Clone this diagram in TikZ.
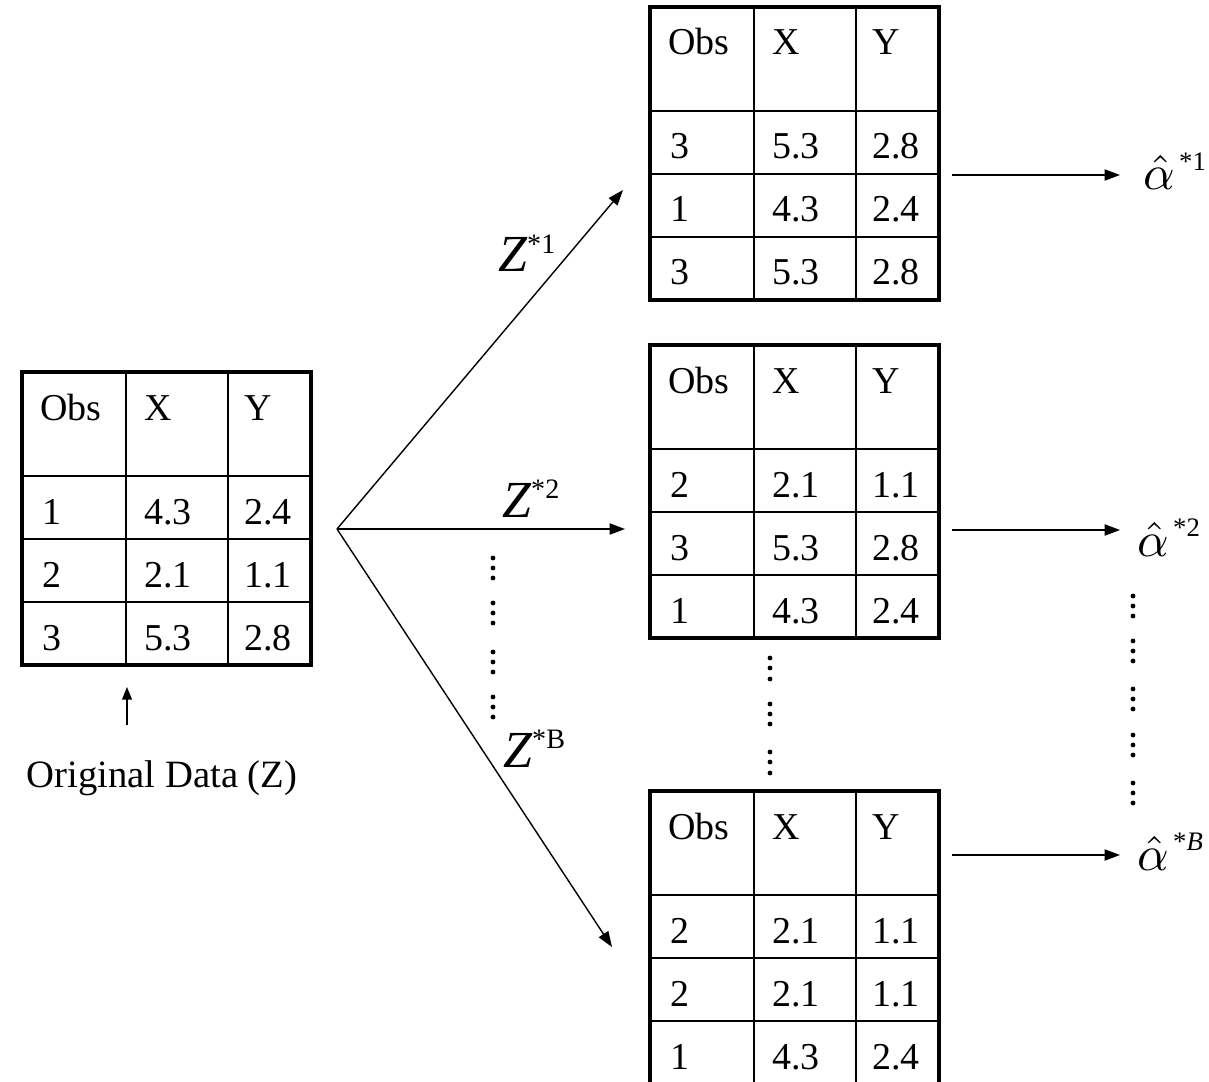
\documentclass[tikz,border=0pt]{standalone}
\usepackage{fix-cm}
\usepackage{amsmath}
\usepackage{amssymb}
\usepackage{fontspec}
\setmainfont{Liberation Serif}
\usetikzlibrary{arrows.meta}

\tikzset{
  tableframe/.style={draw=black, line width=2.8pt, minimum width=7.225cm, minimum height=7.325cm, inner sep=0pt},
  tablegrid/.style={draw=black, line width=1.1pt},
  cell/.style={anchor=base west, inner sep=0pt, font=\fontsize{27}{30}\selectfont},
  link/.style={draw=black, line width=1pt, -{Triangle[length=11pt,width=8pt]}},
  label/.style={anchor=base west, inner sep=0pt},
}

% one data table: name, top left corner, rows obs/x/y
\newcommand{\datatable}[3]{%
  \begin{scope}[shift={(#2)}]
    \draw[tablegrid] (0,104) -- (289,104) (0,167) -- (289,167) (0,230) -- (289,230)
                     (104,0) -- (104,293) (206,0) -- (206,293);
    \node[tableframe] (#1) at (144.5,146.5) {};
    \node[cell] (#1-obs) at (18,48) {Obs};
    \node[cell] (#1-x) at (122,48) {X};
    \node[cell] (#1-y) at (222,48) {Y};
    \foreach \ob/\xv/\yv [count=\r] in {#3} {
      \node[cell] (#1-\r o) at (20,{89+63*\r}) {\ob};
      \node[cell] (#1-\r x) at (122,{89+63*\r}) {\xv};
      \node[cell] (#1-\r y) at (222,{89+63*\r}) {\yv};
    }
  \end{scope}}

\newcommand{\zlabel}[1]{{\fontsize{37}{40}\selectfont\itshape Z}\raisebox{13pt}{\fontsize{20}{22}\selectfont *#1}}
\newcommand{\alabel}[1]{\scalebox{3.5}{$\hat{\alpha}$}\kern3pt\raisebox{14pt}{\fontsize{19}{21}\selectfont *#1}}

\begin{document}
\begin{tikzpicture}[x=0.025cm, y=-0.025cm]
\useasboundingbox (0,0) rectangle (1209,1082);

% tables
\datatable{orig}{22,372}{1/4.3/2.4, 2/2.1/1.1, 3/5.3/2.8}
\datatable{boot1}{650,7}{3/5.3/2.8, 1/4.3/2.4, 3/5.3/2.8}
\datatable{boot2}{650,345}{2/2.1/1.1, 3/5.3/2.8, 1/4.3/2.4}
\datatable{bootB}{650,791}{2/2.1/1.1, 2/2.1/1.1, 1/4.3/2.4}

% resampling arrows
\coordinate (split) at (337,529);
\coordinate (in1) at (623,190);
\coordinate (in2) at (625,529);
\coordinate (inB) at (612,947);
\draw[link] (split) -- (in1);
\draw[link] (split) -- (in2);
\draw[link] (split) -- (inB);
\node[label] (z1) at (498,272) {\zlabel{1}};
\node[label] (z2) at (502,517) {\zlabel{2}};
\node[label] (zB) at (503,767) {\zlabel{B}};

% estimates
\coordinate (out1) at (952,175);
\coordinate (end1) at (1120,175);
\coordinate (out2) at (952,530);
\coordinate (end2) at (1120,530);
\coordinate (outB) at (952,855);
\coordinate (endB) at (1120,855);
\draw[link] (out1) -- (end1);
\draw[link] (out2) -- (end2);
\draw[link] (outB) -- (endB);
\node[label] (a1) at (1143,190) {\alabel{1}};
\node[label] (a2) at (1137,556) {\alabel{2}};
\node[label] (aB) at (1137,870) {\alabel{\textit{B}}};

% original data caption
\coordinate (up0) at (127,725);
\coordinate (up1) at (127,687);
\draw[link, -{Triangle[length=9pt,width=7pt]}] (up0) -- (up1);
\node[anchor=base, inner sep=0pt, font=\fontsize{27.5}{30}\selectfont] (caption) at (162,787) {Original Data (Z)};

% dots
\foreach \d in {558,568,578,603,613,623,652,662,672,697,707,717}
  \fill (493,\d) circle (2.4);
\foreach \d in {658,668,679,704,714,724,752,762,773}
  \fill (770,\d) circle (2.4);
\foreach \d in {596,606,616,641,651,661,689,699,709,735,745,755,783,793,803}
  \fill (1133,\d) circle (2.4);
\end{tikzpicture}
\end{document}
